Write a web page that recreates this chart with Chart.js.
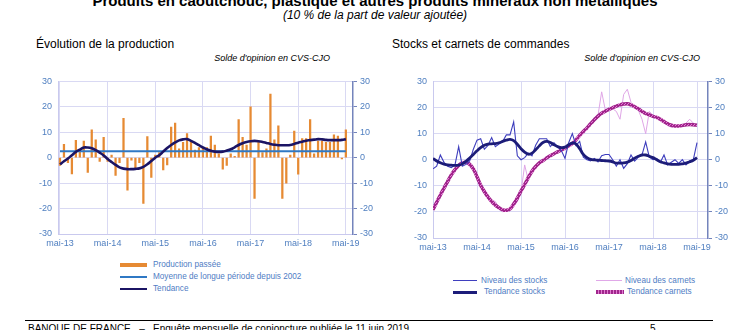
<!DOCTYPE html>
<html lang="fr">
<head>
<meta charset="utf-8">
<script src="https://cdn.jsdelivr.net/npm/chart.js@4/dist/chart.umd.min.js"></script>
<style>
  body { margin: 0; width: 750px; height: 330px; overflow: hidden; background: #fff;
         font-family: "Liberation Sans", Arial, sans-serif; position: relative; }
  .t { position: absolute; white-space: nowrap; }
  .leg { position: absolute; white-space: nowrap; font-size: 8.2px; color: #4f7cc4; }
  .sw { position: absolute; }
  canvas { position: absolute; }
</style>
</head>
<body>
<div class="t" style="left:0;width:750px;text-align:center;top:-8px;font-size:15px;font-weight:bold;">Produits en caoutchouc, plastique et autres produits minéraux non métalliques</div>
<div class="t" style="left:0;width:750px;text-align:center;top:8px;font-size:12px;font-style:italic;">(10 % de la part de valeur ajoutée)</div>

<div class="t" style="left:36px;top:37px;font-size:12px;">Évolution de la production</div>
<div class="t" style="left:150px;width:180px;text-align:right;top:53px;font-size:9px;font-style:italic;">Solde d'opinion en CVS-CJO</div>
<div class="t" style="left:392px;top:37px;font-size:12px;">Stocks et carnets de commandes</div>
<div class="t" style="left:520px;width:180px;text-align:right;top:53px;font-size:9px;font-style:italic;">Solde d'opinion en CVS-CJO</div>

<canvas id="prod" width="360" height="185" style="left:20px;top:70px;"></canvas>
<canvas id="stocks" width="360" height="185" style="left:385px;top:70px;"></canvas>

<!-- légende gauche -->
<div class="sw" style="left:120px;top:263px;width:27px;height:4px;background:#e68a33;"></div>
<div class="leg" style="left:153px;top:260px;">Production passée</div>
<div class="sw" style="left:120px;top:276px;width:27px;height:2px;background:#2f78c4;"></div>
<div class="leg" style="left:153px;top:272px;">Moyenne de longue période depuis 2002</div>
<div class="sw" style="left:120px;top:288px;width:27px;height:2px;background:#1b1464;"></div>
<div class="leg" style="left:153px;top:284px;">Tendance</div>

<!-- légende droite -->
<div class="sw" style="left:453px;top:280px;width:24px;height:1px;background:#3f3fbf;"></div>
<div class="leg" style="left:481px;top:276px;">Niveau des stocks</div>
<div class="sw" style="left:453px;top:291px;width:24px;height:3px;background:#1c1c7a;"></div>
<div class="leg" style="left:484px;top:287px;">Tendance stocks</div>
<div class="sw" style="left:596px;top:280px;width:26px;height:1px;background:#e0a8e8;"></div>
<div class="leg" style="left:625px;top:276px;">Niveau des carnets</div>
<div class="sw" style="left:596px;top:290px;width:28px;height:4px;background:repeating-linear-gradient(90deg,#a0268c 0 2px,#e07ad0 2px 3px);"></div>
<div class="leg" style="left:627px;top:287px;">Tendance carnets</div>

<!-- pied de page -->
<div class="sw" style="left:25px;top:320px;width:688px;height:1px;background:#000;"></div>
<div class="t" style="left:28px;top:323px;font-size:10px;">BANQUE DE FRANCE &nbsp;&nbsp;–&nbsp;&nbsp; Enquête mensuelle de conjoncture publiée le 11 juin 2019</div>
<div class="t" style="left:650px;top:323px;font-size:10px;">5</div>

<script>
// Mois (mai-13 -> mai-19)
const moisFr = ['janv', 'févr', 'mars', 'avr', 'mai', 'juin', 'juil', 'août', 'sept', 'oct', 'nov', 'déc'];
const months = [];
for (let k = 4; k <= 4 + 72; k++) {
  months.push(moisFr[k % 12] + '-' + (13 + Math.floor(k / 12)));
}

// Evolution de la production
const productionPassee = [
  -3, 5.3, -2, -6.4, 6.8, 3, 6.5, -5.8, 11, 7, -1.5, 8,
  -1.5, 1, -7, -2, 15.5, -12.8, -1, -4, -2, -18, 8.3, -7.8,
  1, 2, -4.8, -2.8, 12, 13.6, 3.5, 6, 9.5, 6, 3, 4,
  4, 4, 8.5, 5, 1.5, -4.5, -3, 1.5, 0.5, 15, 8, 5,
  20, -16, 6, 2, 3.5, 25, 7, 12.5, -16, -10, 1, 10.5,
  -6.5, 7.5, 7.5, 15, 1.5, 6.5, 6.5, 6, 6, 9, 8.5, -0.5,
  11
];
const tendanceProduction = [
  -2.6, -1.4, -0.3, 1.0, 2.3, 3.2, 4.0, 4.0, 3.7, 3.0, 2.0, 0.9,
  -0.5, -1.7, -2.8, -3.8, -4.3, -4.5, -4.5, -4.4, -4.2, -3.6, -2.6, -1.3,
  0.0, 1.0, 2.4, 3.8, 5.0, 6.0, 6.8, 7.2, 7.3, 6.6, 5.8, 4.9,
  4.0, 3.3, 2.7, 2.4, 2.3, 2.4, 2.8, 3.3, 4.1, 5.0, 5.7, 6.2,
  6.5, 6.6, 6.5, 6.2, 5.8, 5.4, 5.1, 4.9, 4.9, 4.9, 5.0, 5.4,
  5.9, 6.3, 6.7, 6.9, 7.1, 7.3, 7.2, 7.0, 6.9, 6.9, 6.9, 7.0,
  7.3
];
const moyenneLongue = 2.5;

// Stocks et carnets de commandes
const niveauStocks = [
  -3.5, -2.5, 1.8, -1, -2.5, -3, -2, 5, -2.5, -1.8, -0.5, 4,
  7.5, 8, 4, 5.5, 8.5, 5, 6, 7, 9.5, 9.5, 14.5, 1.5,
  0, 0.8, 2.5, 1.5, 5.5, 8, 8, 8, 5, 6.5, 5, 3.5,
  0.5, 6.5, 10, 5.5, 7, 1, 0, -0.5, 0.5, -0.8, 1.5, 2,
  2, 0, -2.5, 0, -3.3, -1.5, 1.8, -0.5, 1, 1.8, 6.8, 1,
  0, 0.5, -1, 1.8, -2, -1, 0, -1.4, 0, -2, -0.5, 0,
  6.5
];
const tendanceStocks = [
  0.5, -0.5, -1.2, -1.7, -2.0, -2.1, -2.2, -2.1, -1.6, -0.6, 0.6, 2.0,
  3.4, 4.6, 5.5, 6.0, 6.1, 6.2, 6.5, 7.0, 7.5, 7.8, 7.3, 5.9,
  4.2, 2.9, 2.1, 2.5, 3.8, 5.3, 6.6, 7.0, 6.6, 5.7, 5.0, 4.6,
  4.8, 5.7, 6.4, 6.0, 4.2, 2.0, 0.8, 0.1, -0.1, -0.2, -0.3, -0.4,
  -0.5, -0.8, -1.3, -1.3, -1.2, -0.9, -0.3, 0.6, 1.3, 1.8, 1.8, 1.3,
  0.8, 0.0, -0.8, -1.2, -1.6, -1.8, -1.8, -1.8, -1.6, -1.3, -0.8, -0.2,
  0.8
];
const niveauCarnets = [
  -19.5, -17, -13, -11, -8, -6, -4, -2, -0.5, -1.5, -1, -3,
  -7, -10, -12, -14.5, -15.5, -16, -18.5, -20, -19.5, -18.5, -18, -16,
  -12.5, -2, -8, -4, -2.5, -1, 0, 0.5, 1.5, 2, 3, 4,
  5, 5, 6.5, 8, 9, 10.5, 12, 14, 15.5, 17, 26, 19,
  19, 19.5, 18.5, 15.5, 25, 27, 22, 20, 19, 15.5, 10, 18.5,
  17, 16.5, 15, 14.5, 13, 12.5, 13, 13, 13, 14, 15.5, 14,
  13
];
const tendanceCarnets = [
  -19.2, -16.3, -13.5, -10.9, -8.3, -5.8, -3.8, -2.2, -1.2, -1.0, -1.8, -3.5,
  -6.5, -9.8, -12.2, -14.3, -16.0, -17.4, -18.4, -19.2, -19.4, -18.9, -17.0, -14.7,
  -12.0, -9.5, -6.8, -4.4, -2.6, -1.2, -0.3, 0.7, 1.5, 2.3, 3.0, 3.7,
  4.5, 5.3, 6.2, 7.6, 9.3, 10.8, 12.2, 13.8, 15.3, 16.7, 17.8, 18.6,
  19.3, 19.9, 20.5, 21.0, 21.3, 21.4, 21.0, 20.3, 19.5, 18.5, 17.7, 17.2,
  16.6, 16.2, 15.5, 14.6, 13.8, 13.2, 12.9, 12.9, 13.1, 13.4, 13.5, 13.4,
  13.2
];

const tickColor = '#4f7fc0';
const gridColor = '#d9d9f3';
const pts = arr => arr.map((v, i) => ({ x: i, y: v }));

function xAxis(min, max, h) {
  return {
    type: 'linear', min: min, max: max, offset: false,
    afterBuildTicks: s => {
      s.ticks = months.map((m, i) => i).filter(i => i % 12 === 0).map(v => ({ value: v }));
    },
    afterFit: s => { s.height = h; },
    ticks: { callback: v => months[v], color: tickColor, font: { size: 9 }, padding: 4, maxRotation: 0, autoSkip: false },
    grid: { color: gridColor, drawTicks: false, offset: false },
    border: { color: '#c9c9ee' }
  };
}
function yLeft(w) {
  return {
    position: 'left', min: -30, max: 30,
    afterFit: s => { s.width = w; },
    ticks: { stepSize: 10, color: tickColor, font: { size: 9 }, padding: 6 },
    grid: { color: gridColor, drawTicks: false },
    border: { color: '#c9c9ee' }
  };
}
function yRight(w) {
  return {
    position: 'right', min: -30, max: 30,
    afterFit: s => { s.width = w; },
    ticks: { stepSize: 10, color: tickColor, font: { size: 9 }, padding: 3 },
    grid: { drawOnChartArea: false, tickLength: 4, color: '#7484bc' },
    border: { color: '#7484bc', width: 1.5 }
  };
}
const commonOpts = {
  responsive: false, animation: false, devicePixelRatio: 1,
  layout: { padding: { top: 11 } },
  plugins: { legend: { display: false }, tooltip: { enabled: false } },
  elements: { point: { radius: 0 } }
};

// motif de la tendance carnets
function motifCarnets() {
  const c = document.createElement('canvas');
  c.width = 3; c.height = 3;
  const g = c.getContext('2d');
  g.fillStyle = '#a0268c'; g.fillRect(0, 0, 3, 3);
  g.fillStyle = '#e27ad2'; g.fillRect(0, 0, 1, 1); g.fillRect(2, 1, 1, 1);
  return g.createPattern(c, 'repeat');
}

new Chart(document.getElementById('prod'), {
  type: 'bar',
  data: {
    datasets: [
      { type: 'line', label: 'Tendance', data: pts(tendanceProduction), borderColor: '#1b1464', borderWidth: 2.6, tension: 0.4, order: 1 },
      { type: 'line', label: 'Moyenne de longue période depuis 2002', data: pts(months.map(() => moyenneLongue)), borderColor: '#2f78c4', borderWidth: 2, order: 2 },
      { type: 'bar', label: 'Production passée', data: pts(productionPassee), backgroundColor: '#e68a33', barThickness: 1.6, order: 3 }
    ]
  },
  options: Object.assign({}, commonOpts, {
    scales: { x: xAxis(-0.5, 73.8, 21), y: yLeft(38), y2: yRight(27) }
  })
});

new Chart(document.getElementById('stocks'), {
  type: 'line',
  data: {
    datasets: [
      { label: 'Niveau des carnets', data: pts(niveauCarnets), borderColor: '#dfa6e6', borderWidth: 1, tension: 0, order: 4 },
      { label: 'Tendance carnets', data: pts(tendanceCarnets), borderColor: motifCarnets(), borderWidth: 3.5, tension: 0.4, order: 3 },
      { label: 'Niveau des stocks', data: pts(niveauStocks), borderColor: '#3d3dbd', borderWidth: 1.1, tension: 0, order: 2 },
      { label: 'Tendance stocks', data: pts(tendanceStocks), borderColor: '#1c1c78', borderWidth: 2.8, tension: 0.4, order: 1 }
    ]
  },
  options: Object.assign({}, commonOpts, {
    scales: { x: xAxis(0, 75, 17), y: yLeft(48), y2: yRight(37) }
  })
});
</script>
</body>
</html>
